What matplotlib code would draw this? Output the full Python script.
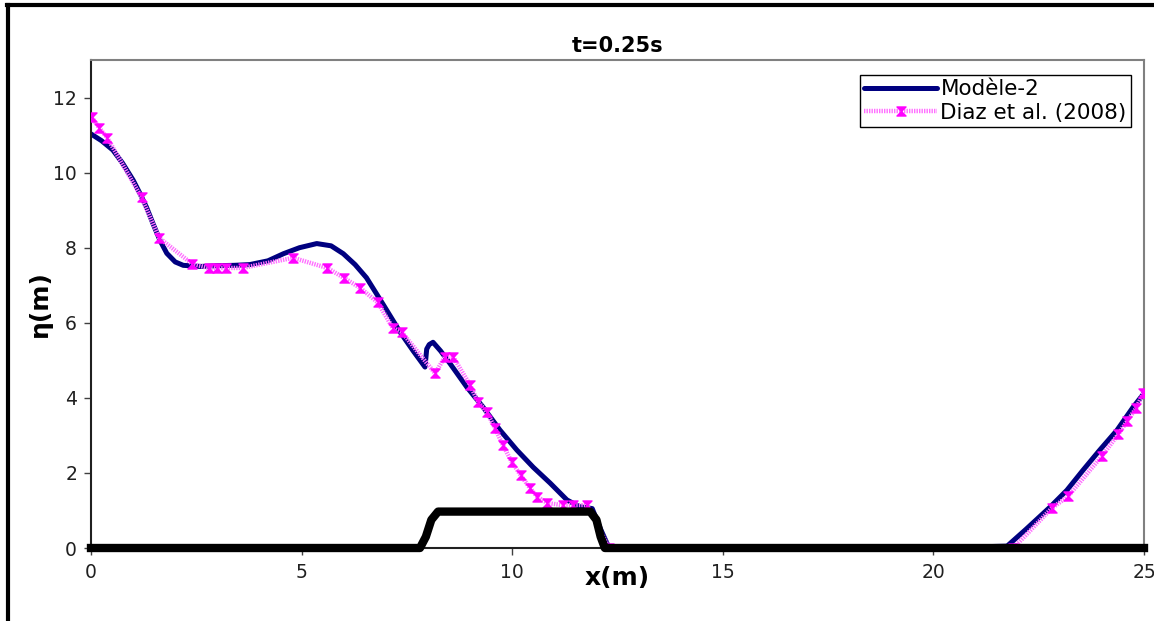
import matplotlib
matplotlib.use("Agg")
import matplotlib.pyplot as plt
from matplotlib.lines import Line2D
from matplotlib.path import Path

plt.rcParams['font.family'] = ['DejaVu Sans']
plt.rcParams['lines.scale_dashes'] = False

# data
model_x = [0, 0.25, 0.52, 0.75, 1.0, 1.16, 1.32, 1.48, 1.64, 1.8, 2.0, 2.19, 2.6, 3.0, 3.4,
           3.77, 4.2, 4.57, 4.95, 5.36, 5.7, 5.99, 6.27, 6.54, 6.93, 7.34, 7.65, 7.93, 7.97,
           8.03, 8.12, 8.3, 8.52, 8.92, 9.31, 9.71, 10.11, 10.5, 10.9, 11.3, 11.6, 11.9, 12.1,
           12.3, 15, 20, 21.75, 22.2, 22.77, 23.17, 23.55, 23.95, 24.36, 24.74, 25.0]
model_y = [11.03, 10.85, 10.6, 10.25, 9.8, 9.45, 9.07, 8.62, 8.19, 7.85, 7.62, 7.53, 7.5, 7.52, 7.53,
           7.55, 7.65, 7.84, 8.0, 8.11, 8.05, 7.84, 7.55, 7.2, 6.5, 5.75, 5.25, 4.82, 5.3,
           5.42, 5.48, 5.25, 4.92, 4.29, 3.75, 3.14, 2.61, 2.15, 1.73, 1.28, 1.1, 1.05, 0.5,
           0.0, 0, 0, 0.05, 0.5, 1.09, 1.54, 2.07, 2.61, 3.14, 3.75, 4.12]

diaz_x = [0.02, 0.19, 0.39, 1.2, 1.62, 2.4, 2.79, 2.98, 3.2, 3.6, 4.8, 5.61, 6.0, 6.39, 6.81,
          7.17, 7.38, 8.17, 8.4, 8.6, 9.0, 9.19, 9.4, 9.59, 9.78, 9.99, 10.2, 10.42, 10.6,
          10.83, 11.2, 11.45, 11.78, 12.3, 21.9, 22.81, 23.2, 24.0, 24.39, 24.6, 24.81, 24.98]
diaz_y = [11.47, 11.2, 10.92, 9.34, 8.26, 7.57, 7.46, 7.46, 7.46, 7.46, 7.73, 7.46, 7.2, 6.93, 6.54,
          5.85, 5.75, 4.65, 5.09, 5.09, 4.34, 3.89, 3.62, 3.19, 2.74, 2.29, 1.94, 1.6, 1.36,
          1.2, 1.14, 1.14, 1.14, 0.0, 0.0, 1.06, 1.38, 2.45, 3.03, 3.38, 3.72, 4.12]

bathy_x = [0, 7.81, 7.95, 8.08, 8.24, 11.85, 12.0, 12.1, 12.2, 25]
bathy_y = [0, 0, 0.3, 0.75, 0.97, 0.97, 0.75, 0.3, 0, 0]

hourglass = Path([(-1, 1), (1, 1), (0, 0), (1, -1), (-1, -1), (0, 0), (-1, 1)],
                 [Path.MOVETO, Path.LINETO, Path.LINETO, Path.LINETO, Path.LINETO,
                  Path.LINETO, Path.CLOSEPOLY])

fig = plt.figure(figsize=(11.54, 6.21), dpi=100)
ax = fig.add_axes([91/1154, 1 - 548/621, (1144 - 91)/1154, (548 - 60)/621])

ax.plot(model_x, model_y, color='#000080', lw=3.6, zorder=2, label='Modèle-2',
        solid_capstyle='round')
ax.plot(diaz_x, diaz_y, color='#ff70ff', lw=3.2, ls=(0, (1.0, 0.8)), marker=hourglass,
        markersize=6.5, markerfacecolor='#ff00ff', markeredgecolor='#ff00ff',
        zorder=3, label='Diaz et al. (2008)')
ax.plot(bathy_x, bathy_y, color='black', lw=6, zorder=4, clip_on=False,
        solid_joinstyle='round')

ax.set_xlim(0, 25)
ax.set_ylim(0, 13)
ax.set_xticks([0, 5, 10, 15, 20, 25])
ax.set_yticks([0, 2, 4, 6, 8, 10, 12])
ax.tick_params(direction='out', length=5, width=1, color='#404040', labelsize=13.5,
               labelcolor='#202020')
ax.tick_params(axis='x', pad=6)
ax.tick_params(axis='y', pad=5)
for s in ax.spines.values():
    s.set_color('#808080')
    s.set_linewidth(1.5)
ax.spines['left'].set_color('#202020')
ax.spines['bottom'].set_color('#202020')

ax.set_title('t=0.25s', fontsize=15, fontweight='bold', pad=6)
ax.set_xlabel('x(m)', fontsize=18, fontweight='bold')
ax.xaxis.set_label_coords(0.5, -0.036)
ax.set_ylabel('η(m)', fontsize=18, fontweight='bold', labelpad=1)

leg = ax.legend(loc='upper right', bbox_to_anchor=(1131/1154, 1 - 75/621),
                bbox_transform=fig.transFigure, borderaxespad=0, fontsize=15.5,
                fancybox=False, framealpha=1, edgecolor='black', borderpad=0.2,
                labelspacing=0.15, handlelength=3.4, handletextpad=0.15, markerscale=1.0)
leg.get_frame().set_linewidth(1)

# outer frame of the picture
fig.add_artist(Line2D([7/1154, 1], [1 - 5/621, 1 - 5/621], color='black', lw=3,
                      transform=fig.transFigure))
fig.add_artist(Line2D([8/1154, 8/1154], [0, 1 - 5/621], color='black', lw=3,
                      transform=fig.transFigure))

fig.savefig('out.png', dpi=100)
